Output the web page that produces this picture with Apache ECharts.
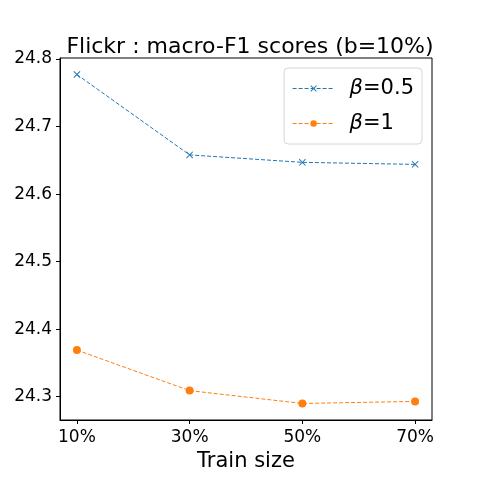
<!DOCTYPE html>
<html>
<head>
<meta charset="utf-8">
<script src="https://cdn.jsdelivr.net/npm/echarts@6/dist/echarts.min.js"></script>
<style>
html,body{margin:0;padding:0;background:#fff}
#main{width:480px;height:480px}
</style>
</head>
<body>
<div id="main"></div>
<script>
// train sizes, values
const trainSizes = ['10%', '30%', '50%', '70%']
const beta05 = [24.777, 24.658, 24.647, 24.644]
const beta1 = [24.369, 24.309, 24.290, 24.293]
const yTicks = [24.3, 24.4, 24.5, 24.6, 24.7, 24.8]

const font = 'DejaVu Sans'
const xMark = 'path://M0,1L1,0L5,4L9,0L10,1L6,5L10,9L9,10L5,6L1,10L0,9L4,5Z'

let chart = echarts.init(document.getElementById('main'))
chart.setOption({
    animation: false,
    title: {
        text: 'Flickr : macro-F1 scores (b=10%)',
        left: 245,
        textAlign: 'center',
        top: 31,
        textStyle: {fontFamily: font, fontSize: 22, fontWeight: 'normal', color: '#000'}
    },
    legend: {
        orient: 'vertical',
        right: 58,
        top: 68,
        padding: [10, 8, 10, 8],
        itemGap: 14,
        itemWidth: 42,
        itemHeight: 8,
        borderColor: '#d6d6d6',
        borderWidth: 1,
        borderRadius: 4,
        lineStyle: {width: 1, type: [4, 2]},
        formatter: function (name) {
            return '{i|β}=' + name.split('=')[1]
        },
        textStyle: {
            fontFamily: font, fontSize: 21, color: '#000', padding: [0, 0, 0, 10],
            rich: {i: {fontFamily: font, fontStyle: 'italic', fontSize: 21, color: '#000'}}
        },
        data: ['β=0.5', 'β=1']
    },
    grid: {
        left: 60, right: 48, top: 58, bottom: 60,
        outerBoundsMode: 'none',
        show: true, borderColor: '#000', borderWidth: 1
    },
    xAxis: {
        type: 'value',
        min: -0.15,
        max: 3.15,
        name: 'Train size',
        nameLocation: 'middle',
        nameGap: 30,
        nameTextStyle: {fontFamily: font, fontSize: 21, color: '#000'},
        axisLine: {onZero: false, lineStyle: {color: '#000'}},
        axisTick: {length: 4, lineStyle: {color: '#000'}, customValues: [0, 1, 2, 3]},
        axisLabel: {
            fontFamily: font, fontSize: 17, color: '#000', margin: 9,
            customValues: [0, 1, 2, 3],
            formatter: function (v) { return trainSizes[Math.round(v)] }
        },
        splitLine: {show: false}
    },
    yAxis: {
        type: 'value',
        min: 24.2655,
        max: 24.8015,
        axisLine: {show: true, onZero: false, lineStyle: {color: '#000'}},
        axisTick: {show: true, length: 4, lineStyle: {color: '#000'}, customValues: yTicks},
        axisLabel: {
            fontFamily: font, fontSize: 17, color: '#000', margin: 8,
            customValues: yTicks,
            formatter: function (v) { return v.toFixed(1) }
        },
        splitLine: {show: false}
    },
    series: [
        {
            name: 'β=0.5',
            type: 'line',
            data: beta05.map((v, i) => [i, v]),
            symbol: xMark,
            symbolSize: 7,
            color: '#1f77b4',
            lineStyle: {width: 1, type: [4, 2]},
            itemStyle: {color: '#1f77b4'}
        },
        {
            name: 'β=1',
            type: 'line',
            data: beta1.map((v, i) => [i, v]),
            symbol: 'circle',
            symbolSize: 8,
            color: '#ff7f0e',
            lineStyle: {width: 1, type: [4, 2]},
            itemStyle: {color: '#ff7f0e'}
        }
    ]
})
</script>
</body>
</html>
